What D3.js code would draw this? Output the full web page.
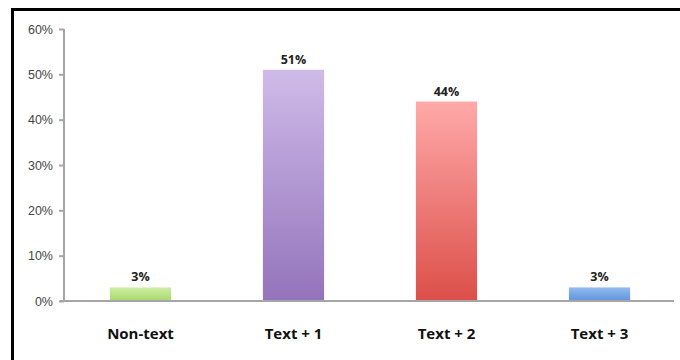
<!DOCTYPE html>
<meta charset="utf-8">
<style>
body { margin: 0; background: #fff; }
svg { font-family: "Open Sans", "Lato", sans-serif; }
.axis path, .axis line { stroke: #a6a6a6; stroke-width: 2px; }
.axis text { fill: #444; font-size: 12.5px; }
.val { font-size: 12.5px; font-weight: bold; fill: #222; text-anchor: middle; }
.cat { font-size: 15px; font-weight: bold; fill: #111; text-anchor: middle; }
</style>

<svg width="680" height="360"></svg>

<script src="https://d3js.org/d3.v7.min.js"></script>
<script>

var categories = ["Non-text", "Text + 1", "Text + 2", "Text + 3"];
var values = [3, 51, 44, 3];
var yTicks = [0, 10, 20, 30, 40, 50, 60];
var topColors = ["#cdeda2", "#cfbbe9", "#ffa9a9", "#93bbee"];
var bottomColors = ["#a9d86e", "#9373bb", "#dc4f49", "#5e93dd"];

var svg = d3.select("svg");

// frame (left + top only, like the cropped original)
svg.append("rect").attr("x", 11).attr("y", 8).attr("width", 680).attr("height", 3).attr("fill", "#000");
svg.append("rect").attr("x", 11).attr("y", 8).attr("width", 3).attr("height", 360).attr("fill", "#000");

var x = d3.scaleBand()
    .domain(categories)
    .range([64, 676])
    .paddingInner(0.6)
    .paddingOuter(0.3);

var y = d3.scaleLinear()
    .domain([0, 60])
    .range([301, 29]);

var defs = svg.append("defs");
categories.forEach(function(c, i) {
  var g = defs.append("linearGradient")
      .attr("id", "grad" + i)
      .attr("x1", 0).attr("y1", 0).attr("x2", 0).attr("y2", 1);
  g.append("stop").attr("offset", "0%").attr("stop-color", topColors[i]);
  g.append("stop").attr("offset", "100%").attr("stop-color", bottomColors[i]);
});

var yAxis = svg.append("g")
    .attr("class", "axis")
    .attr("transform", "translate(64,0)")
    .call(d3.axisLeft(y).tickValues(yTicks).tickSize(5).tickPadding(6)
      .tickFormat(function(d) { return d + "%"; }));
yAxis.select(".domain").attr("d", "M0,29V301");

svg.selectAll(".bar")
    .data(values)
    .enter().append("rect")
      .attr("class", "bar")
      .attr("x", function(d, i) { return x(categories[i]); })
      .attr("width", x.bandwidth())
      .attr("y", function(d) { return y(d); })
      .attr("height", function(d) { return y(0) - y(d); })
      .attr("fill", function(d, i) { return "url(#grad" + i + ")"; });

// baseline
svg.append("line")
    .attr("x1", 60).attr("x2", 674)
    .attr("y1", y(0)).attr("y2", y(0))
    .attr("stroke", "#a6a6a6").attr("stroke-width", 2);

svg.selectAll(".val")
    .data(values)
    .enter().append("text")
      .attr("class", "val")
      .attr("x", function(d, i) { return x(categories[i]) + x.bandwidth() / 2; })
      .attr("y", function(d) { return y(d) - 6; })
      .text(function(d) { return d + "%"; });

svg.selectAll(".cat")
    .data(categories)
    .enter().append("text")
      .attr("class", "cat")
      .attr("x", function(d) { return x(d) + x.bandwidth() / 2; })
      .attr("y", 339)
      .text(function(d) { return d; });

</script>
